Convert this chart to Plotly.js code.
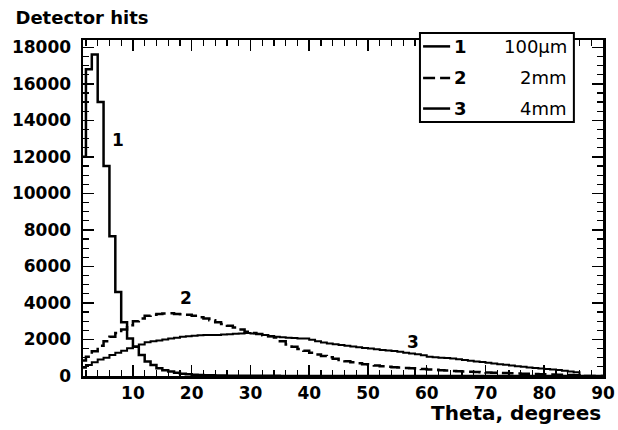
<!DOCTYPE html>
<html>
<head>
<meta charset="utf-8">
<script src="https://cdn.plot.ly/plotly-3.0.1.min.js"></script>
<style>
  html, body { margin: 0; padding: 0; background: #fff; }
  #chart { width: 618px; height: 430px; }
</style>
</head>
<body>
<div id="chart"></div>
<script>
// ── Data: 1-degree bins, first bin starts at 1 deg ─────────────────────────
const binStart = 1;
const binWidth = 1;

// 100 µm (curve 1)
const hits100um = [
  12000, 16800, 17600, 15000, 11500, 7650, 4600, 2950, 2050, 1600,
  1150, 800, 600, 430, 320, 250, 180, 130, 100, 75,
  55, 45, 35, 30, 25, 20, 18, 15, 13, 12,
  10, 9, 8, 7, 6, 5, 5, 4, 4, 3,
  3, 3, 2, 2, 2, 2, 2, 2, 2, 1,
  1, 1, 1, 1, 1, 1, 1, 1, 1, 1,
  1, 1, 1, 1, 1, 1, 1, 1, 1, 1,
  1, 1, 1, 1, 1, 1, 1, 1, 1, 1,
  1, 1, 1, 1, 1, 0, 0, 0, 0
];

// 2 mm (curve 2)
const hits2mm = [
  850, 1050, 1350, 1650, 1900, 2150, 2350, 2550, 2780, 3000,
  3150, 3300, 3350, 3400, 3420, 3430, 3400, 3380, 3350, 3300,
  3220, 3150, 3050, 2950, 2850, 2750, 2650, 2550, 2420, 2360,
  2300, 2230, 2170, 2110, 1900, 1720, 1600, 1480, 1380, 1280,
  1180, 1100, 1030, 950, 880, 810, 750, 700, 650, 610,
  570, 540, 510, 480, 460, 440, 420, 400, 380, 360,
  340, 320, 300, 280, 265, 250, 235, 220, 205, 195,
  180, 170, 160, 150, 140, 130, 120, 110, 100, 90,
  80, 70, 60, 50, 40, 0, 0, 0, 0
];

// 4 mm (curve 3)
const hits4mm = [
  450, 600, 750, 900, 1000, 1150, 1280, 1380, 1520, 1620,
  1720, 1850, 1900, 1950, 2000, 2050, 2100, 2150, 2180, 2210,
  2230, 2240, 2250, 2250, 2270, 2290, 2310, 2330, 2350, 2330,
  2300, 2250, 2180, 2150, 2120, 2100, 2080, 2060, 2050, 1980,
  1900, 1830, 1780, 1740, 1700, 1660, 1620, 1580, 1530, 1500,
  1470, 1430, 1400, 1370, 1330, 1280, 1230, 1190, 1130, 1060,
  1030, 1000, 980, 960, 920, 880, 840, 800, 760, 730,
  690, 650, 610, 570, 530, 500, 470, 440, 410, 380,
  360, 330, 290, 250, 200, 0, 0, 0, 0
];

const curveIds   = ['1', '2', '3'];
const curveNames = ['100\u00b5m', '2mm', '4mm'];
const curveDash  = ['solid', '12px,5px', 'solid'];
const curveWidth = [2.5, 2.5, 2];

// ── Helpers ────────────────────────────────────────────────────────────────
function stepTrace(counts, i) {
  // bin edges -> step line (hv), closed to zero on both ends
  const x = [binStart];
  const y = [0];
  counts.forEach((c, k) => { x.push(binStart + k * binWidth); y.push(c); });
  x.push(binStart + counts.length * binWidth); y.push(counts[counts.length - 1]);
  x.push(binStart + counts.length * binWidth); y.push(0);
  return {
    x, y,
    type: 'scatter',
    mode: 'lines',
    line: { shape: 'hv', color: '#000', width: curveWidth[i], dash: curveDash[i] },
    showlegend: false,
    hoverinfo: 'skip',
  };
}

const BOLD = { family: 'DejaVu Sans', size: 17, color: '#000', weight: 'bold' };

const axisBase = {
  showline: true,
  linecolor: '#000',
  linewidth: 2.5,
  mirror: 'allticks',
  ticks: 'inside',
  ticklen: 11,
  tickwidth: 1.5,
  tickcolor: '#000',
  showgrid: false,
  zeroline: false,
  tickfont: BOLD,
  tickformat: 'd',
  fixedrange: true,
};

// ── Legend (drawn by hand, ROOT-like box) ────────────────────────────────────
const legBox = { x0: 0.648, x1: 0.944, y0: 0.756, y1: 1.021 };
const legRowY = [0.981, 0.887, 0.796];
const shapes = [{
  type: 'rect', xref: 'paper', yref: 'paper',
  x0: legBox.x0, x1: legBox.x1, y0: legBox.y0, y1: legBox.y1,
  line: { color: '#000', width: 2 }, fillcolor: '#fff', layer: 'above',
}];
const annotations = [];
curveIds.forEach((id, i) => {
  shapes.push({
    type: 'line', xref: 'paper', yref: 'paper',
    x0: 0.654, x1: 0.706, y0: legRowY[i], y1: legRowY[i],
    line: { color: '#000', width: 2.5, dash: curveDash[i] }, layer: 'above',
  });
  annotations.push({
    xref: 'paper', yref: 'paper', x: 0.709, y: legRowY[i],
    xanchor: 'left', yanchor: 'middle', showarrow: false,
    text: id, font: { family: 'DejaVu Sans', size: 18, color: '#000', weight: 'bold' },
  });
  annotations.push({
    xref: 'paper', yref: 'paper', x: 0.935, y: legRowY[i],
    xanchor: 'right', yanchor: 'middle', showarrow: false,
    text: curveNames[i], font: { family: 'DejaVu Sans', size: 18, color: '#000' },
  });
});

// curve labels next to the histograms
const labelPos = [[7.5, 12900], [19.1, 4250], [57.7, 1850]];
curveIds.forEach((id, i) => {
  annotations.push({
    x: labelPos[i][0], y: labelPos[i][1], xref: 'x', yref: 'y',
    showarrow: false, text: id, font: BOLD,
  });
});

// x-axis title, right aligned like ROOT
annotations.push({
  xref: 'paper', yref: 'paper', x: 1.0, y: -0.11,
  xanchor: 'right', yanchor: 'middle', showarrow: false,
  text: 'Theta, degrees',
  font: { family: 'DejaVu Sans', size: 20, color: '#000', weight: 'bold' },
});

const layout = {
  width: 618,
  height: 430,
  paper_bgcolor: '#fff',
  plot_bgcolor: '#fff',
  margin: { l: 83, r: 15, t: 40, b: 54, pad: 0 },
  showlegend: false,
  title: {
    text: 'Detector hits',
    xref: 'container', yref: 'container',
    x: 0.025, xanchor: 'left',
    y: 0.96, yanchor: 'middle',
    font: { family: 'DejaVu Sans', size: 18, color: '#000', weight: 'bold' },
  },
  xaxis: Object.assign({}, axisBase, {
    range: [1.5, 90],
    tick0: 0,
    dtick: 10,
    minor: { ticks: 'inside', ticklen: 6, tickwidth: 1.2, tickcolor: '#000', dtick: 2, tick0: 0 },
  }),
  yaxis: Object.assign({}, axisBase, {
    range: [0, 18400],
    tick0: 0,
    dtick: 2000,
    ticklabelstandoff: 6,
    minor: { ticks: 'inside', ticklen: 6, tickwidth: 1.2, tickcolor: '#000', dtick: 500, tick0: 0 },
  }),
  shapes,
  annotations,
};

const traces = [hits100um, hits2mm, hits4mm].map(stepTrace);

Plotly.newPlot('chart', traces, layout, { displayModeBar: false, staticPlot: true });
</script>
</body>
</html>
